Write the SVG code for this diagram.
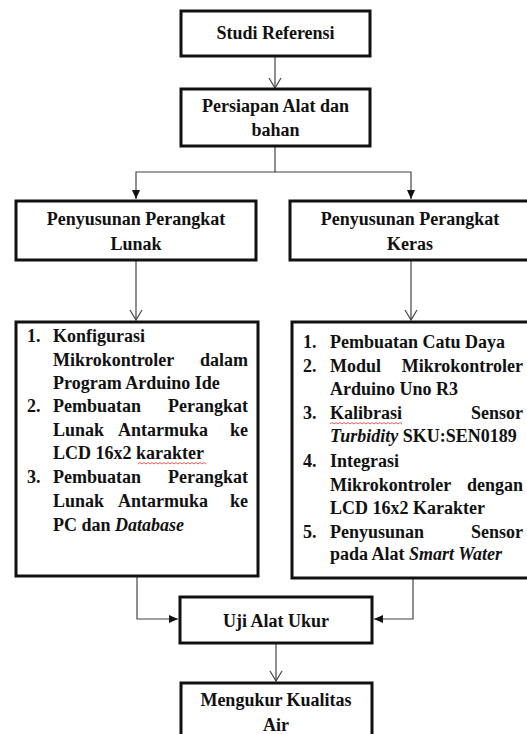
<svg xmlns="http://www.w3.org/2000/svg" width="527" height="734" viewBox="0 0 527 734">
<style>
.box{fill:#fff;stroke:#111;stroke-width:3}
text{font-family:'Liberation Serif',serif;font-weight:700;font-size:18px;fill:#111}
.c{text-anchor:middle}
.e{text-anchor:end}
.i{font-style:italic}
.ln{fill:none;stroke:#444;stroke-width:1.2}
.sq{fill:none;stroke:#d33;stroke-width:0.8}
</style>
<defs>
<marker id="open" viewBox="-1 -7 12 14" refX="10" refY="0" markerWidth="12" markerHeight="14" markerUnits="userSpaceOnUse" orient="auto">
<path d="M0,-6 L10,0 L0,6" fill="none" stroke="#444" stroke-width="1.2"/>
</marker>
<marker id="fill" viewBox="0 -5 10 10" refX="9" refY="0" markerWidth="10" markerHeight="10" markerUnits="userSpaceOnUse" orient="auto">
<path d="M0,-4 L9,0 L0,4 Z" fill="#111"/>
</marker>
</defs>

<g id="connectors">
<path class="ln" d="M275,56 V88" marker-end="url(#open)"/>
<path class="ln" d="M275,146 V172 H136 V199" marker-end="url(#fill)"/>
<path class="ln" d="M275,172 H411 V199" marker-end="url(#fill)"/>
<path class="ln" d="M136,260 V320" marker-end="url(#open)"/>
<path class="ln" d="M411,260 V320" marker-end="url(#open)"/>
<path class="ln" d="M137,576 V619 H178" marker-end="url(#fill)"/>
<path class="ln" d="M413,578 V619 H374" marker-end="url(#fill)"/>
<path class="ln" d="M276,643 V681" marker-end="url(#open)"/>
</g>

<g id="studi-referensi">
<rect class="box" x="181" y="11" width="189" height="45"/>
<text class="c" x="275.5" y="39" font-family="Liberation Serif">Studi Referensi</text>
</g>

<g id="persiapan">
<rect class="box" x="181" y="89" width="189" height="57"/>
<text class="c" x="275.5" y="112">Persiapan Alat dan</text>
<text class="c" x="275.5" y="136">bahan</text>
</g>

<g id="perangkat-lunak">
<rect class="box" x="16" y="201" width="240" height="59"/>
<text class="c" x="136" y="225">Penyusunan Perangkat</text>
<text class="c" x="136" y="250">Lunak</text>
</g>

<g id="perangkat-keras">
<rect class="box" x="290" y="201" width="245" height="59"/>
<text class="c" x="410" y="225">Penyusunan Perangkat</text>
<text class="c" x="410" y="250">Keras</text>
</g>

<g id="daftar-lunak">
<rect class="box" x="16" y="322" width="242" height="254"/>
<text x="27" y="342">1.</text>
<text x="53" y="342">Konfigurasi</text>
<text x="53" y="366">Mikrokontroler</text>
<text class="e" x="248" y="366">dalam</text>
<text x="53" y="389">Program Arduino Ide</text>
<text x="27" y="412">2.</text>
<text x="53" y="412">Pembuatan</text>
<text class="e" x="248" y="412">Perangkat</text>
<text x="53" y="436">Lunak</text>
<text class="c" x="163" y="436">Antarmuka</text>
<text class="e" x="248" y="436">ke</text>
<text x="53" y="459">LCD 16x2 karakter</text>
<path class="sq" d="M138,464 l2,-1.5 l2,1.5 l2,-1.5 l2,1.5 l2,-1.5 l2,1.5 l2,-1.5 l2,1.5 l2,-1.5 l2,1.5 l2,-1.5 l2,1.5 l2,-1.5 l2,1.5 l2,-1.5 l2,1.5 l2,-1.5 l2,1.5 l2,-1.5 l2,1.5 l2,-1.5 l2,1.5 l2,-1.5 l2,1.5 l2,-1.5 l2,1.5 l2,-1.5 l2,1.5 l2,-1.5 l2,1.5 l2,-1.5 l2,1.5 l2,-1.5 l2,1.5"/>
<text x="27" y="483">3.</text>
<text x="53" y="483">Pembuatan</text>
<text class="e" x="248" y="483">Perangkat</text>
<text x="53" y="507">Lunak</text>
<text class="c" x="163" y="507">Antarmuka</text>
<text class="e" x="248" y="507">ke</text>
<text x="53" y="531">PC dan <tspan class="i">Database</tspan></text>
</g>

<g id="daftar-keras">
<rect class="box" x="292" y="322" width="243" height="256"/>
<text x="303" y="348">1.</text>
<text x="330" y="348">Pembuatan Catu Daya</text>
<text x="303" y="372">2.</text>
<text x="330" y="372">Modul</text>
<text class="e" x="523" y="372">Mikrokontroler</text>
<text x="330" y="395">Arduino Uno R3</text>
<text x="303" y="419">3.</text>
<text x="330" y="419">Kalibrasi</text>
<path class="sq" d="M330,424 l2,-1.5 l2,1.5 l2,-1.5 l2,1.5 l2,-1.5 l2,1.5 l2,-1.5 l2,1.5 l2,-1.5 l2,1.5 l2,-1.5 l2,1.5 l2,-1.5 l2,1.5 l2,-1.5 l2,1.5 l2,-1.5 l2,1.5 l2,-1.5 l2,1.5 l2,-1.5 l2,1.5 l2,-1.5 l2,1.5 l2,-1.5 l2,1.5 l2,-1.5 l2,1.5 l2,-1.5 l2,1.5 l2,-1.5 l2,1.5 l2,-1.5 l2,1.5 l2,-1.5 l2,1.5"/>
<text class="e" x="523" y="419">Sensor</text>
<text x="330" y="442"><tspan class="i">Turbidity</tspan> SKU:SEN0189</text>
<text x="303" y="467">4.</text>
<text x="330" y="467">Integrasi</text>
<text x="330" y="491">Mikrokontroler</text>
<text class="e" x="523" y="491">dengan</text>
<text x="330" y="514">LCD 16x2 Karakter</text>
<text x="303" y="538">5.</text>
<text x="330" y="538">Penyusunan</text>
<text class="e" x="523" y="538">Sensor</text>
<text x="330" y="560">pada Alat <tspan class="i">Smart Water</tspan></text>
</g>

<g id="uji-alat-ukur">
<rect class="box" x="180" y="597" width="192" height="46"/>
<text class="c" x="276" y="627">Uji Alat Ukur</text>
</g>

<g id="mengukur-kualitas">
<rect class="box" x="181" y="683" width="191" height="62"/>
<text class="c" x="276" y="706">Mengukur Kualitas</text>
<text class="c" x="276" y="731">Air</text>
</g>
</svg>
